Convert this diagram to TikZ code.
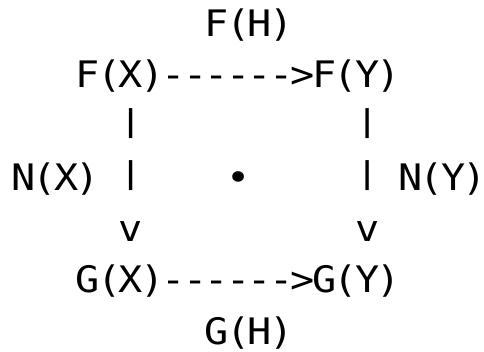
\documentclass[tikz,border=0pt]{standalone}
\usepackage{fontspec}
\setmonofont[FakeStretch=1.1, LetterSpace=-7.3]{DejaVu Sans Mono}
\usetikzlibrary{positioning}
\tikzset{
  ascii/.style={anchor=base west, inner sep=0pt,
    font=\ttfamily\fontsize{36.5}{42}\selectfont},
}
% short vertical bar, sitting on the baseline
\newcommand{\shortbar}{\raisebox{7.07pt}{\scalebox{1}[0.822]{|}}}

\begin{document}
\begin{tikzpicture}[x=21.5pt, y=-51.3pt]
    % one unit = one column / one text line
    \useasboundingbox (-0.5116,-0.7076) rectangle (22.0,6.1345);
    % top row
    \node[ascii] (fh) at (9,0) {F(H)};
    \node[ascii] (fx) at (3,1) {F(X)};
    \node[ascii] (fto) at (7,1) {------>};
    \node[ascii] (fy) at (14,1) {F(Y)};
    % vertical arrows
    \node[ascii] (lbar1) at (5,2) {\shortbar};
    \node[ascii] (rbar1) at (16,2) {\shortbar};
    \node[ascii] (nx) at (0,3) {N(X)};
    \node[ascii] (lbar2) at (5,3) {\shortbar};
    \node[ascii] (dot) at (10,3) {•};
    \node[ascii] (rbar2) at (16,3) {\shortbar};
    \node[ascii] (ny) at (18,3) {N(Y)};
    \node[ascii] (lhead) at (5,4) {v};
    \node[ascii] (rhead) at (16,4) {v};
    % bottom row
    \node[ascii] (gx) at (3,5) {G(X)};
    \node[ascii] (gto) at (7,5) {------>};
    \node[ascii] (gy) at (14,5) {G(Y)};
    \node[ascii] (gh) at (9,6) {G(H)};
\end{tikzpicture}
\end{document}
